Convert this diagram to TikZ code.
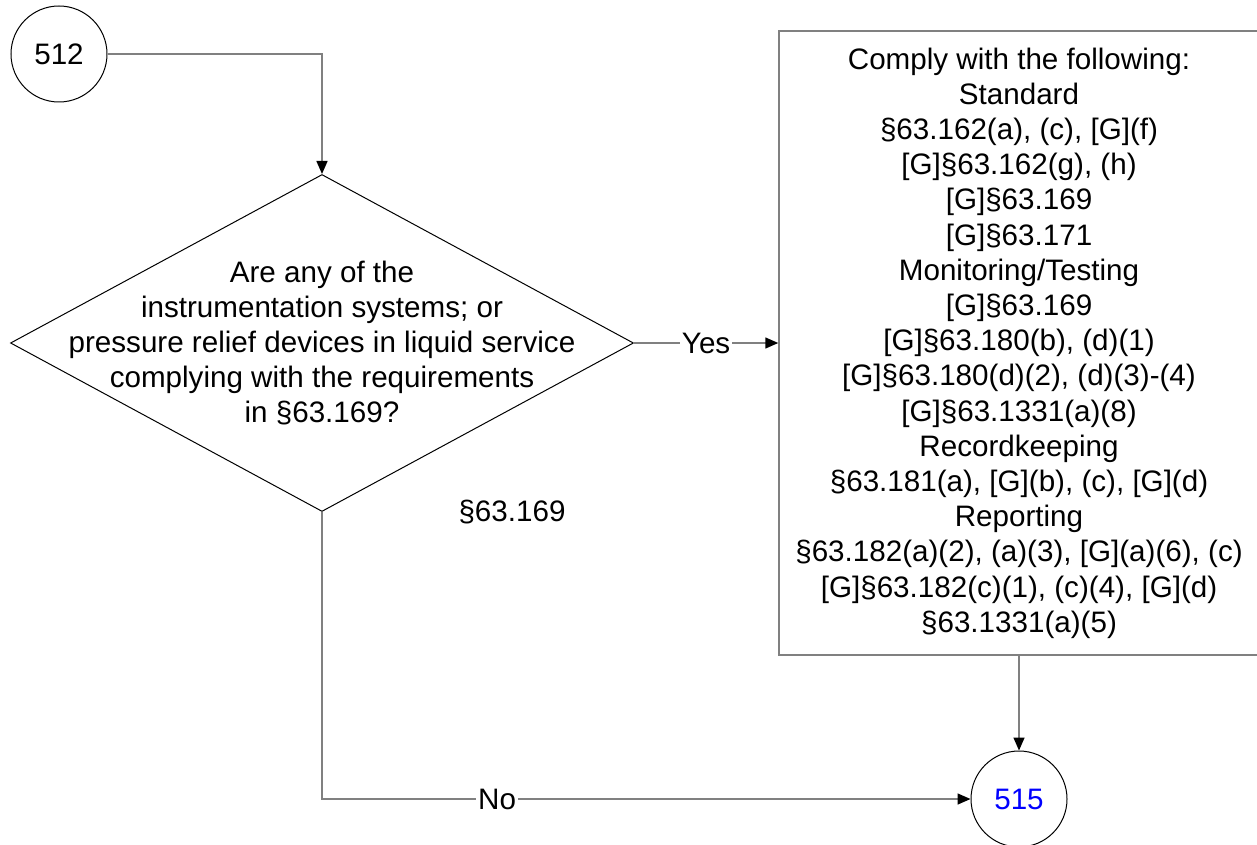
\documentclass[tikz,border=0pt]{standalone}
\usepackage{fontspec}
\setmainfont{Liberation Sans}
\usetikzlibrary{arrows.meta,shapes.geometric}
\definecolor{linegray}{RGB}{128,128,128}
\begin{document}
\begin{tikzpicture}[x=1pt,y=-1pt,
  txt/.style={font=\fontsize{29.6}{35.2}\selectfont, align=center, inner sep=0pt},
  circ/.style={circle, draw=black, line width=1pt, minimum size=96pt, inner sep=0pt, font=\fontsize{29.6}{35.2}\selectfont},
  decision/.style={diamond, draw=black, line width=1pt, minimum width=623pt, minimum height=337pt, inner sep=0pt},
  actbox/.style={rectangle, draw=linegray, line width=1.5pt, minimum width=480pt, minimum height=624pt, inner sep=0pt, font=\fontsize{29.6}{35.2}\selectfont, align=center},
  conn/.style={draw=linegray, line width=1.5pt, -{Triangle[length=13pt,width=11pt,color=black]}},
  lab/.style={fill=white, inner sep=2pt, font=\fontsize{29.6}{35.2}\selectfont}]
\useasboundingbox (0,0) rectangle (1257,845);
\fill[white] (0,0) rectangle (1257,845);
\node[circ] (c512) at (59,54) {512};
\node[decision] (q) at (322,343) {};
\node[txt] (qt) at (q.center) {Are any of the\\instrumentation systems; or\\pressure relief devices in liquid service\\complying with the requirements\\in §63.169?};
\node[actbox] (b) at (1019,343) {Comply with the following:\\Standard\\§63.162(a), (c), {[G]}(f)\\{[G]}§63.162(g), (h)\\{[G]}§63.169\\{[G]}§63.171\\Monitoring/Testing\\{[G]}§63.169\\{[G]}§63.180(b), (d)(1)\\{[G]}§63.180(d)(2), (d)(3)-(4)\\{[G]}§63.1331(a)(8)\\Recordkeeping\\§63.181(a), {[G]}(b), (c), {[G]}(d)\\Reporting\\§63.182(a)(2), (a)(3), {[G]}(a)(6), (c)\\{[G]}§63.182(c)(1), (c)(4), {[G]}(d)\\§63.1331(a)(5)};
\node[circ, text=blue] (c515) at (1019,799) {515};
\node[txt] (ref) at (512,512) {§63.169};
\draw[conn] (c512.east) -| (q.north);
\draw[conn] (q.east) -- node[lab] {Yes} (b.west);
\draw[conn] (b.south) -- (c515.north);
\draw[conn] (q.south) |- node[lab, pos=0.635] {No} (c515.west);
\end{tikzpicture}
\end{document}
